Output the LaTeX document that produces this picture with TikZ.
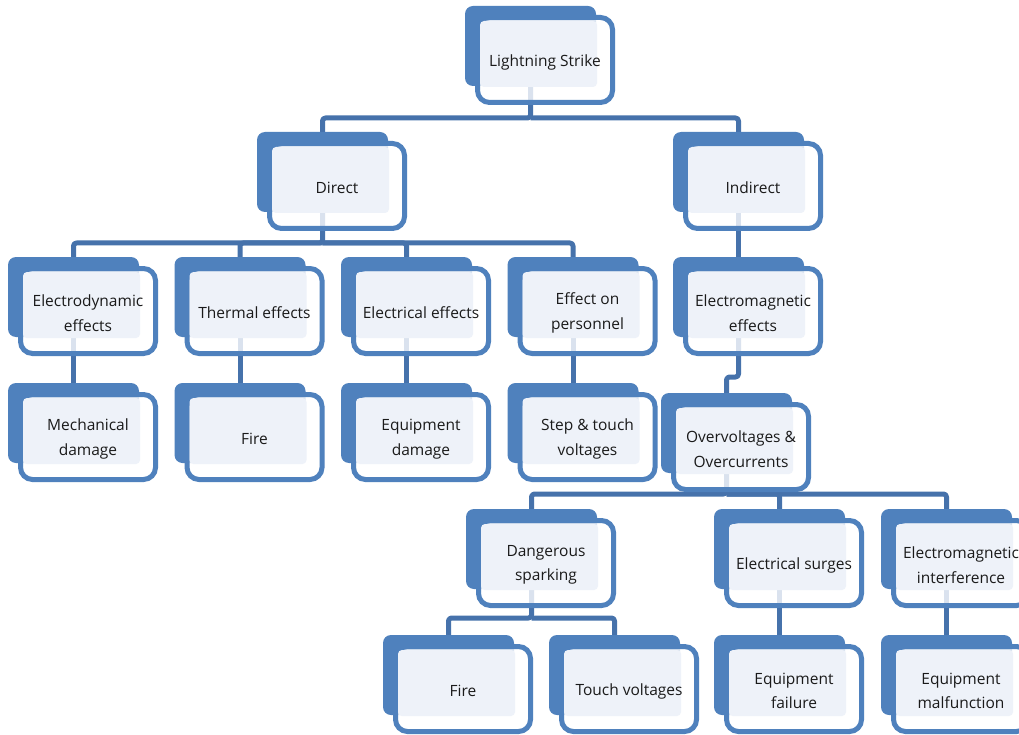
\documentclass[tikz,border=0pt]{standalone}
\usepackage{fontspec}
\setmainfont{Open Sans}
\pgfdeclarelayer{bg}
\pgfdeclarelayer{paper}
\pgfsetlayers{paper,bg,main}
\definecolor{blueA}{HTML}{4F81BD}
\definecolor{connC}{HTML}{4672AB}
\definecolor{lightF}{HTML}{EEF2F9}
\definecolor{txtC}{HTML}{1A1A1A}
\tikzset{
  backbox/.style={rectangle, rounded corners=8pt, fill=blueA, draw=none, minimum width=131pt, minimum height=80pt, inner sep=0pt},
  frontbox/.style={rectangle, rounded corners=12pt, draw=blueA, line width=5pt, fill=white, fill opacity=0.8, minimum width=135pt, minimum height=85pt, inner sep=0pt},
  lightbox/.style={rectangle, rounded corners=4pt, fill=lightF, draw=none, minimum width=117pt, minimum height=66pt, inner sep=0pt},
  txt/.style={align=center, text=txtC, font=\fontsize{15.5}{24.5}\selectfont, inner sep=0pt},
  conn/.style={draw=connC, line width=5pt, rounded corners=3pt, line join=round}
}
\newcommand\mkbox[4]{%
  \node[backbox] (#1) at ({#2+65.5},{-(#3+40)}) {};
  \node[frontbox] (#1-f) at ([shift={(14.5pt,-14pt)}]#1.center) {};
  \node[lightbox] (#1-l) at ([shift={(8pt,-8pt)}]#1.center) {};
  \node[txt] (#1-t) at ([yshift=-2pt]#1-f.center) {#4};
}
\begin{document}
\begin{tikzpicture}[x=1pt,y=1pt]
\useasboundingbox (0,0) rectangle (1019,-735);
\clip (0,0) rectangle (1019,-735);
\begin{pgfonlayer}{paper}
\fill[white] (0,0) rectangle (1019,-735);
\end{pgfonlayer}
\mkbox{ls}{465}{6}{Lightning Strike}
\mkbox{dir}{257}{132}{Direct}
\mkbox{ind}{673}{132}{Indirect}
\mkbox{ed}{8}{257}{Electrodynamic\\effects}
\mkbox{th}{174.5}{257}{Thermal effects}
\mkbox{el}{341}{257}{Electrical effects}
\mkbox{ep}{507.5}{257}{Effect on\\personnel}
\mkbox{em}{673}{257}{Electromagnetic\\effects}
\mkbox{md}{8}{383}{Mechanical\\damage}
\mkbox{fia}{174.5}{383}{Fire}
\mkbox{eqd}{341}{383}{Equipment\\damage}
\mkbox{st}{507.5}{383}{Step \& touch\\voltages}
\mkbox{ov}{661}{393}{Overvoltages \&\\Overcurrents}
\mkbox{ds}{466}{509}{Dangerous\\sparking}
\mkbox{es}{714}{509}{Electrical surges}
\mkbox{ei}{881}{509}{Electromagnetic\\interference}
\mkbox{fib}{383}{635}{Fire}
\mkbox{tv}{549}{635}{Touch voltages}
\mkbox{ef}{714}{635}{Equipment\\failure}
\mkbox{emf}{881}{635}{Equipment\\malfunction}
\coordinate (b1) at (0,-118);
\coordinate (b2) at (0,-243);
\coordinate (b3) at (0,-377);
\coordinate (b4) at (0,-494);
\coordinate (b5) at (0,-618);
\begin{pgfonlayer}{bg}
\draw[conn] (ls.south) -- (ls.south |- b1) -| (dir.north);
\draw[conn] (ls.south |- b1) -| (ind.north);
\draw[conn] (dir.south) -- (dir.south |- b2) -| (ed.north);
\draw[conn] (dir.south |- b2) -| (th.north);
\draw[conn] (dir.south |- b2) -| (el.north);
\draw[conn] (dir.south |- b2) -| (ep.north);
\draw[conn] (ind.south) -- (em.north);
\draw[conn] (ed.south) -- (md.north);
\draw[conn] (th.south) -- (fia.north);
\draw[conn] (el.south) -- (eqd.north);
\draw[conn] (ep.south) -- (st.north);
\draw[conn] (em.south) -- (em.south |- b3) -| (ov.north);
\draw[conn] (ov.south) -- (ov.south |- b4) -| (ds.north);
\draw[conn] (ov.south |- b4) -| (es.north);
\draw[conn] (ov.south |- b4) -| (ei.north);
\draw[conn] (ds.south) -- (ds.south |- b5) -| (fib.north);
\draw[conn] (ds.south |- b5) -| (tv.north);
\draw[conn] (es.south) -- (ef.north);
\draw[conn] (ei.south) -- (emf.north);
\end{pgfonlayer}
\end{tikzpicture}
\end{document}
